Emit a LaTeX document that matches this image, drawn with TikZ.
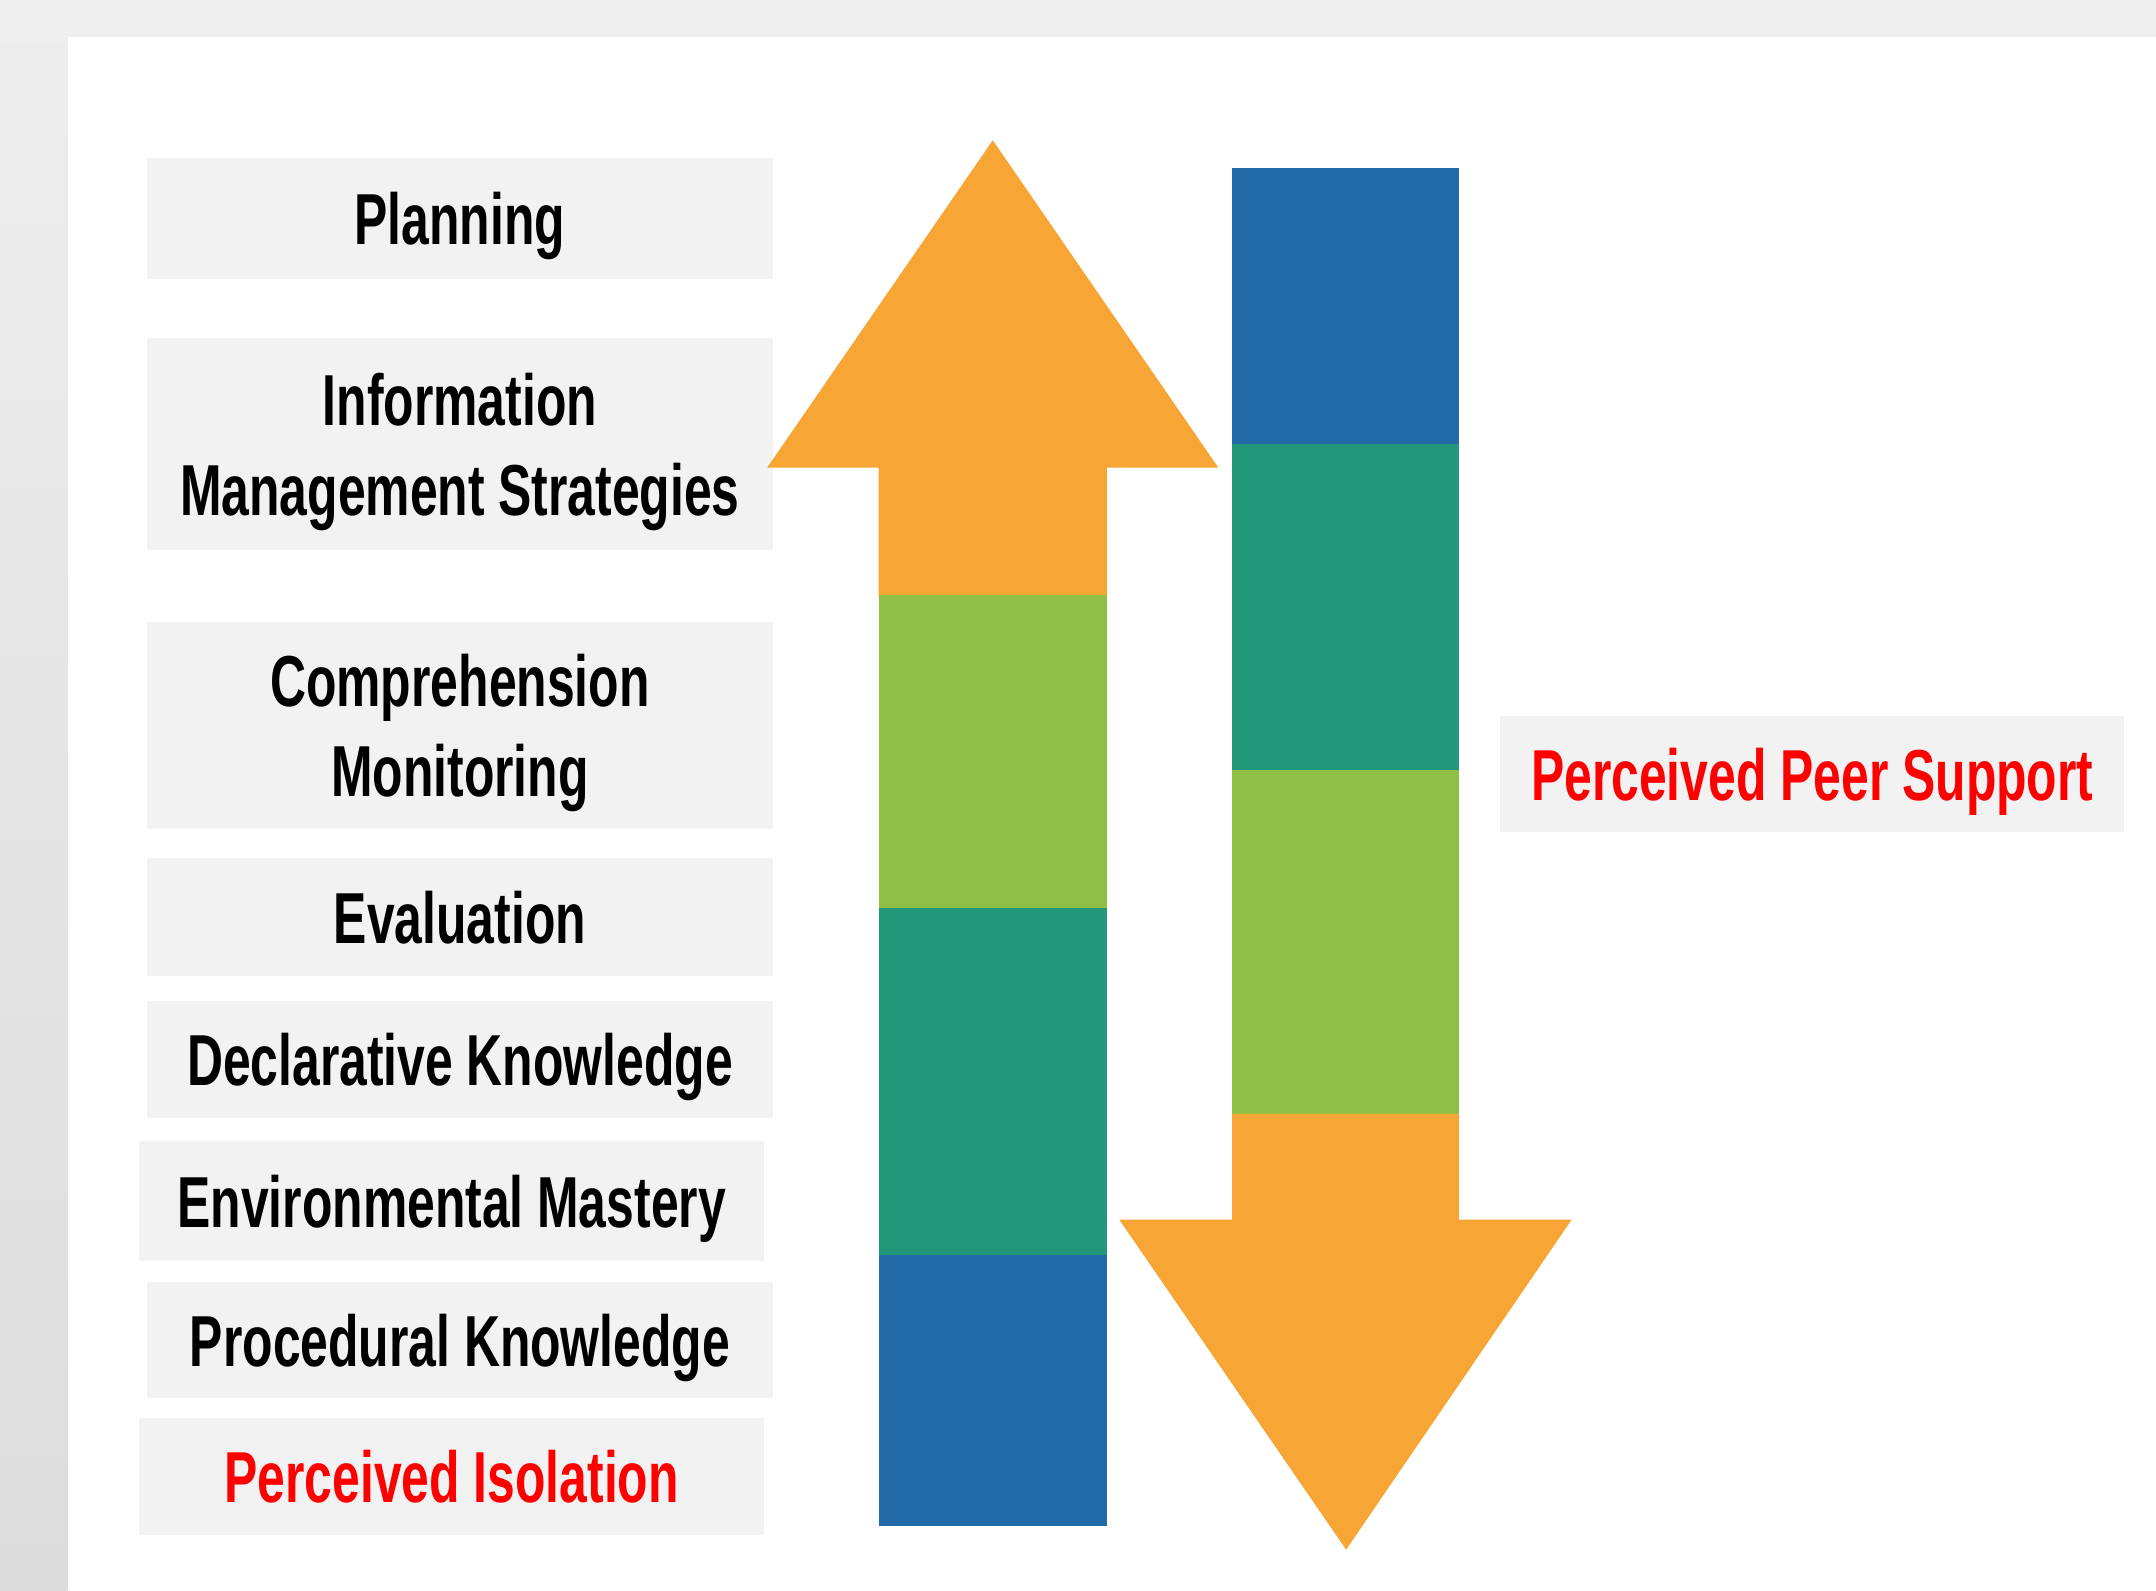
\documentclass[tikz,border=0pt]{standalone}
\usepackage{fontspec}
\setmainfont{Liberation Sans}[FakeStretch=0.69]

\definecolor{framegray}{HTML}{EEEEEE}
\definecolor{framedark}{HTML}{DCDCDC}
\definecolor{boxgray}{HTML}{F2F2F2}
\definecolor{barorange}{HTML}{F7A534}
\definecolor{bargreen}{HTML}{8FC045}
\definecolor{barteal}{HTML}{22977A}
\definecolor{barblue}{HTML}{236BA8}
\definecolor{labelred}{HTML}{FF0000}

\begin{document}
\begin{tikzpicture}[x=0.02cm,y=-0.02cm,
    box/.style={fill=boxgray, minimum width=9.1cm, inner sep=0pt, align=center,
      text depth=0pt, font=\bfseries\fontsize{29.9pt}{37pt}\selectfont}]
\useasboundingbox (0,0) rectangle (1568,1157);

% Page frame
\fill [white] (0,0) rectangle (1568,1157);
\shade [top color=framegray, bottom color=framedark] (0,0) rectangle (49,1157);
\fill [framegray] (49,0) rectangle (1568,27);

% Marking box Planning
\node (planning) [box, minimum height=1.76cm] at (334.5,159) {Planning};

% Marking box Information Management Strategies
\node (infomgmt) [box, minimum height=3.08cm] at (334.5,323) {Information\\Management Strategies};

% Marking box Comprehension Monitoring
\node (compmon) [box, minimum height=3.02cm] at (334.5,527.5) {Comprehension\\Monitoring};

% Marking box Evaluation
\node (evaluation) [box, minimum height=1.72cm] at (334.5,667) {Evaluation};

% Marking box Declarative Knowledge
\node (declknow) [box, minimum height=1.70cm] at (334.5,770.5) {Declarative Knowledge};

% Marking box Environmental Mastery
\node (envmastery) [box, minimum height=1.74cm] at (328.5,873.5) {Environmental Mastery};

% Marking box Procedural Knowledge
\node (procknow) [box, minimum height=1.70cm] at (334.5,974.5) {Procedural Knowledge};

% Marking box Perceived Isolation
\node (isolation) [box, minimum height=1.70cm, text=labelred] at (328.5,1073.5) {Perceived Isolation};

% Marking box Perceived Peer Support
\node (peersupport) [box, minimum width=9.08cm, minimum height=1.68cm, text=labelred] at (1318,563) {Perceived Peer Support};

% Drawing upward arrow
\fill [barorange] (558,340) -- (722,102) -- (886,340) -- (805,340) -- (805,434) -- (639,434) -- (639,340) -- cycle;
\fill [bargreen] (639,433) rectangle (805,660);
\fill [barteal] (639,660) rectangle (805,913);
\fill [barblue] (639,913) rectangle (805,1110);

% Drawing downward arrow
\fill [barblue] (896,122) rectangle (1061,323);
\fill [barteal] (896,323) rectangle (1061,560);
\fill [bargreen] (896,560) rectangle (1061,811);
\fill [barorange] (896,810) -- (1061,810) -- (1061,887) -- (1143,887) -- (979,1127) -- (814,887) -- (896,887) -- cycle;
\end{tikzpicture}
\end{document}
